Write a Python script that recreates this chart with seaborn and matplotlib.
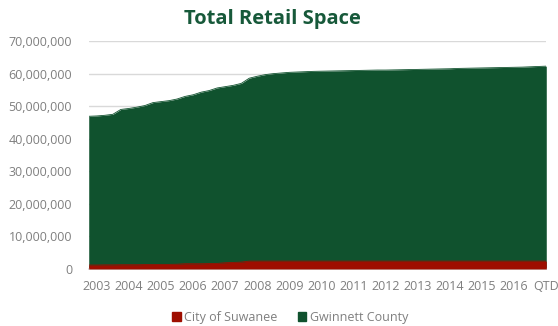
import seaborn as sns
import matplotlib.pyplot as plt
import matplotlib.ticker as mticker
import numpy as np
import pandas as pd

# Quarterly totals (square feet), last point is quarter-to-date
gwinnett = [46.9, 47.0, 47.2, 47.5, 49.0, 49.3, 49.7, 50.2, 51.1, 51.4,
            51.7, 52.2, 53.0, 53.5, 54.3, 54.8, 55.6, 56.0, 56.4, 57.0,
            58.6, 59.2, 59.7, 60.0, 60.2, 60.4, 60.5, 60.6, 60.7, 60.75,
            60.8, 60.85, 60.9, 60.95, 61.0, 61.05, 61.1, 61.1, 61.15, 61.2,
            61.25, 61.3, 61.35, 61.4, 61.45, 61.5, 61.6, 61.65, 61.7, 61.75,
            61.8, 61.85, 61.9, 61.95, 62.0, 62.1, 62.2, 62.3]
suwanee = [1.2, 1.2, 1.25, 1.25, 1.3, 1.3, 1.3, 1.35, 1.35, 1.4,
           1.4, 1.45, 1.6, 1.6, 1.6, 1.65, 1.7, 1.9, 2.0, 2.1,
           2.4, 2.4, 2.4, 2.4, 2.4, 2.4, 2.4, 2.4, 2.4, 2.4,
           2.4, 2.4, 2.4, 2.4, 2.4, 2.4, 2.4, 2.4, 2.4, 2.4,
           2.4, 2.4, 2.4, 2.4, 2.4, 2.4, 2.4, 2.4, 2.4, 2.4,
           2.4, 2.4, 2.4, 2.4, 2.4, 2.4, 2.4, 2.4]
tick_labels = [str(y) for y in range(2003, 2017)] + ['QTD']

green = '#10522E'
red = '#9E0E00'

df = pd.DataFrame({
    'Quarter': np.arange(len(gwinnett)),
    'Gwinnett County': np.array(gwinnett) * 1e6,
    'City of Suwanee': np.array(suwanee) * 1e6,
})

sns.set_theme(style='white')
plt.rcParams['font.family'] = ['Open Sans', 'DejaVu Sans']

fig = plt.figure(figsize=(5.58, 3.26), dpi=100)
ax = fig.add_axes([0.159, 0.175, 0.820, 0.699])

# Overlapping areas: county behind, city in front
ax.fill_between(df['Quarter'], 0, df['Gwinnett County'], color=green, linewidth=0, zorder=2)
sns.lineplot(x='Quarter', y='Gwinnett County', data=df, color=green, linewidth=0.6, ax=ax, zorder=2)
ax.fill_between(df['Quarter'], 0, df['City of Suwanee'], color=red, linewidth=0, zorder=3)
sns.lineplot(x='Quarter', y='City of Suwanee', data=df, color=red, linewidth=0.6, ax=ax, zorder=3)

ax.set_xlim(0, len(gwinnett) - 1)
ax.set_ylim(0, 70e6)
ax.set_yticks(np.arange(0, 70e6 + 1, 10e6))
ax.yaxis.set_major_formatter(mticker.FuncFormatter(lambda v, p: f'{int(v):,}'))
ax.set_xticks(np.arange(1, len(gwinnett), 4))
ax.set_xticklabels(tick_labels)
ax.tick_params(axis='both', colors='#7f7f7f', labelsize=9, length=0)
ax.tick_params(axis='y', pad=12)
ax.tick_params(axis='x', pad=8)
ax.set_xlabel('')
ax.set_ylabel('')
ax.grid(axis='y', color='#d9d9d9', linewidth=1, zorder=0)
ax.set_axisbelow(True)
for s in ['top', 'right', 'left']:
    ax.spines[s].set_visible(False)
ax.spines['bottom'].set_color('#d9d9d9')

fig.text(0.488, 0.943, 'Total Retail Space', ha='center', va='center',
         fontsize=14.5, fontweight='bold', color='#17593A')

handles = [plt.Rectangle((0, 0), 1, 1, color=red), plt.Rectangle((0, 0), 1, 1, color=green)]
fig.legend(handles, ['City of Suwanee', 'Gwinnett County'], loc='center',
           bbox_to_anchor=(0.52, 0.026), ncol=2, frameon=False, fontsize=9,
           handlelength=0.7, handleheight=0.7, handletextpad=0.3, columnspacing=1.6,
           labelcolor='#7f7f7f')

fig.savefig('out.png', dpi=100)
